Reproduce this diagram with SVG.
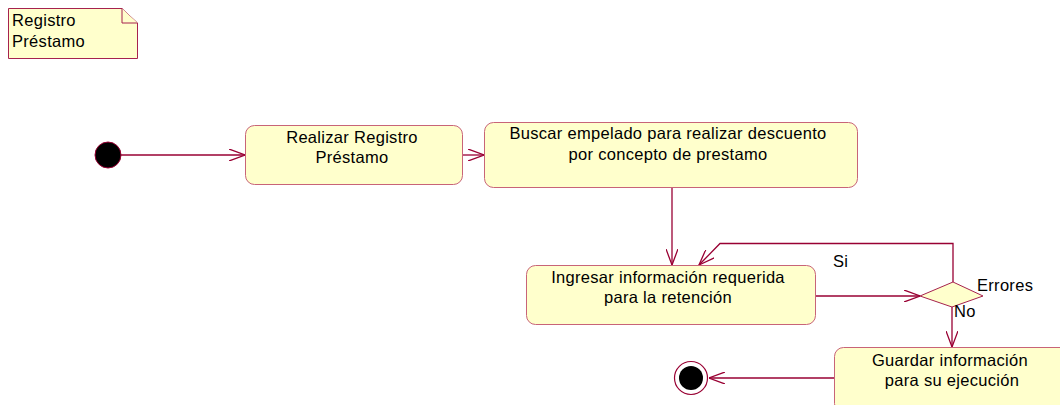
<svg xmlns="http://www.w3.org/2000/svg" width="1060" height="405" viewBox="0 0 1060 405">
<style>
.shape{fill:#ffffcc;stroke:#a6224e;stroke-width:1}
.box{fill:#ffffcc;stroke:#c86478;stroke-width:1}
.line{fill:none;stroke:#990033;stroke-width:1.3}
text{font-family:"Liberation Sans",Arial,sans-serif;font-size:16.5px;letter-spacing:0.3px;fill:#000}
.c{text-anchor:middle}
</style>
<defs>
<marker id="arr" viewBox="0 0 16 12" refX="16" refY="6" markerWidth="16" markerHeight="12" markerUnits="userSpaceOnUse" orient="auto">
<path d="M0,0 L16,6 L0,12" fill="none" stroke="#990033" stroke-width="1.3"/>
</marker>
</defs>
<rect width="1060" height="405" fill="#fff"/>
<g id="note">
<path class="shape" d="M8.5,8.5 H122 L137.5,23 V58.5 H8.5 Z"/>
<path class="shape" d="M122,8.5 V23 H137.5" fill="none"/>
<text x="12" y="26">Registro</text>
<text x="12" y="47">Préstamo</text>
</g>
<g id="connectors">
<line class="line" x1="121" y1="155" x2="245" y2="155" marker-end="url(#arr)"/>
<line class="line" x1="462" y1="155" x2="484" y2="155" marker-end="url(#arr)"/>
<line class="line" x1="672" y1="187" x2="672" y2="265" marker-end="url(#arr)"/>
<line class="line" x1="815" y1="296" x2="920" y2="296" marker-end="url(#arr)"/>
<polyline class="line" points="953,282 953,243.5 720,243.5 699,265" marker-end="url(#arr)"/>
<line class="line" x1="952" y1="307" x2="952" y2="347" marker-end="url(#arr)"/>
<line class="line" x1="834" y1="378" x2="709" y2="378" marker-end="url(#arr)"/>
</g>
<g id="start">
<circle cx="108" cy="155" r="13" fill="#000" stroke="#990033" stroke-width="1"/>
</g>
<g id="n1">
<rect class="box" x="245.5" y="125.5" width="217" height="59" rx="9"/>
<text class="c" x="352" y="143">Realizar Registro</text>
<text class="c" x="352" y="163">Préstamo</text>
</g>
<g id="n2">
<rect class="box" x="484.5" y="122.5" width="373" height="65" rx="9"/>
<text class="c" x="668" y="139">Buscar empelado para realizar descuento</text>
<text class="c" x="668" y="160">por concepto de prestamo</text>
</g>
<g id="n3">
<rect class="box" x="526.5" y="265.5" width="289" height="59" rx="9"/>
<text class="c" x="668" y="283">Ingresar información requerida</text>
<text class="c" x="668" y="303">para la retención</text>
</g>
<g id="decision">
<polygon class="shape" points="920,296 953,282 983,296 952,307"/>
<text x="833" y="267">Si</text>
<text x="977" y="291">Errores</text>
<text x="954" y="317">No</text>
</g>
<g id="n4">
<rect class="box" x="834.5" y="347.5" width="240" height="65" rx="9"/>
<text class="c" x="950" y="366">Guardar información</text>
<text class="c" x="952" y="386">para su ejecución</text>
</g>
<g id="end">
<circle cx="691" cy="378" r="16.5" fill="#fff" stroke="#990033" stroke-width="1.2"/>
<circle cx="691" cy="378" r="12" fill="#000"/>
</g>
</svg>
